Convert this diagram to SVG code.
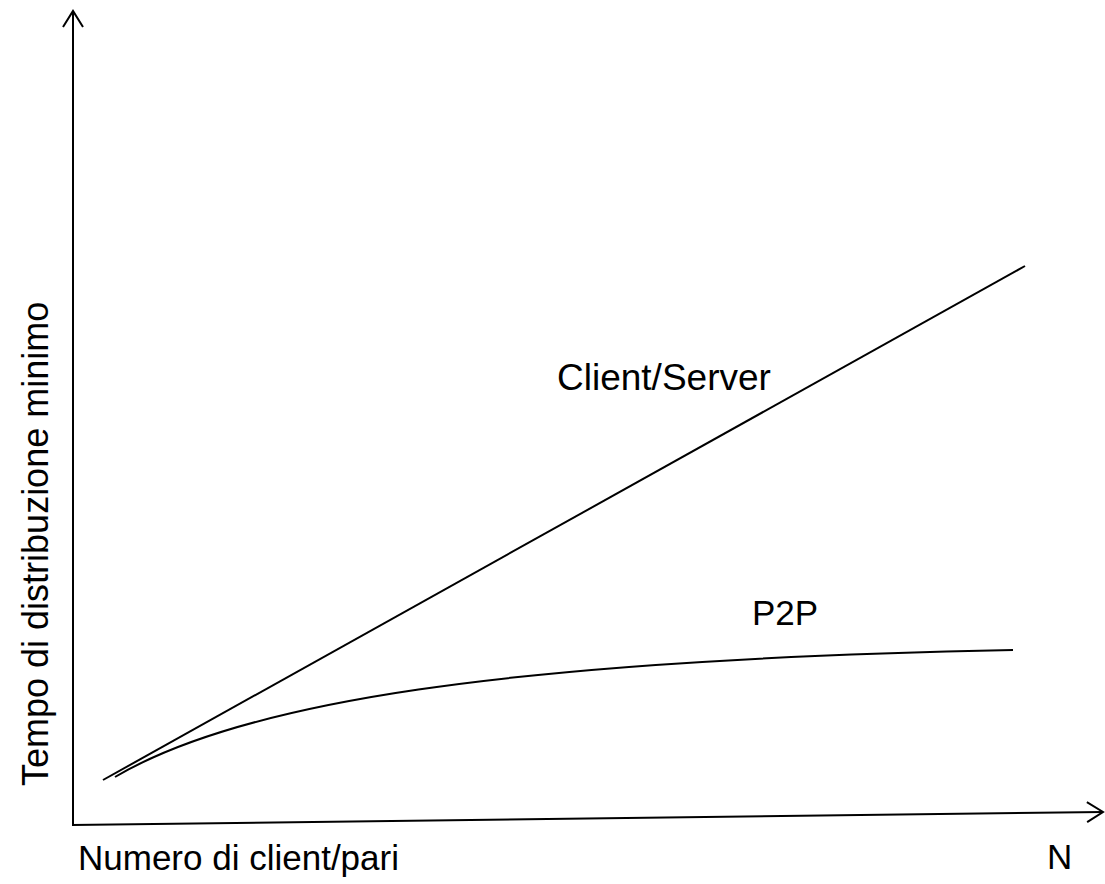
<svg xmlns="http://www.w3.org/2000/svg" width="1105" height="884" viewBox="0 0 1105 884">
<style>
.ax{fill:none;stroke:#000;stroke-width:2}
.ln{fill:none;stroke:#000;stroke-width:2}
.t{font-family:"Liberation Sans",Arial,sans-serif;fill:#000}
</style>
<defs>
<marker id="arr" markerUnits="userSpaceOnUse" markerWidth="20" markerHeight="24" refX="16" refY="10" orient="auto" overflow="visible">
<path d="M0,0 L16,10 L0,20" fill="none" stroke="#000" stroke-width="2"/>
</marker>
</defs>
<rect width="1105" height="884" fill="#fff"/>
<g id="connectors">
<path id="y-axis" class="ax" d="M73,826 L73,11" marker-end="url(#arr)"/>
<path id="x-axis" class="ax" d="M72,825 L1103,812" marker-end="url(#arr)"/>
<path id="client-server" class="ln" d="M103,780 L1025,266"/>
<path id="p2p" class="ln" d="M115,777 C240,703 500,660 1013,650"/>
</g>
<g id="label-cs"><text class="t" x="557" y="390" font-size="37">Client/Server</text></g>
<g id="label-p2p"><text class="t" x="752" y="625" font-size="35">P2P</text></g>
<g id="label-n"><text class="t" x="1047" y="869" font-size="35">N</text></g>
<g id="label-x"><text class="t" x="78" y="870" font-size="35">Numero di client/pari</text></g>
<g id="label-y"><text class="t" transform="translate(48,786) rotate(-90)" font-size="36">Tempo di distribuzione minimo</text></g>
</svg>
